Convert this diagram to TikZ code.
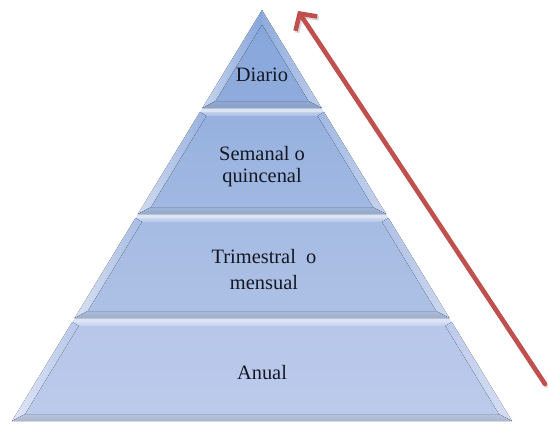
\documentclass[tikz,border=0pt]{standalone}
\usepackage{fontspec}
\setmainfont{Liberation Serif}
\usetikzlibrary{arrows.meta}
\definecolor{arrowred}{HTML}{C0504D}
\definecolor{inktext}{HTML}{141822}
\definecolor{gapblue}{HTML}{DCE5F5}
\tikzset{
  tiertext/.style={font=\fontsize{20.5}{22}\selectfont, text=inktext, align=center, inner sep=0pt},
  trend/.style={draw=arrowred, line width=4.6bp, line cap=round,
    -{Straight Barb[length=12bp, width=26bp, line width=4.6bp]}},
}
\begin{document}
\begin{tikzpicture}[x=1bp, y=-1bp]
\useasboundingbox (0,0) rectangle (548,423);
\fill[white] (0,0) rectangle (548,423);

% pale strips between the tiers
\foreach \ya/\yb in {107/113, 213/219, 317/323} {
  \fill[gapblue] (262-0.60827*\ya+6.08,\ya) -- (262+0.60827*\ya-6.08,\ya)
    -- (262+0.60827*\yb-6.08,\yb) -- (262-0.60827*\yb+6.08,\yb) -- cycle;
}

% four bevelled tiers: top y / bottom y / face top colour / face bottom colour
% half width of the pyramid at height y is 0.60827*(y-10)
\foreach \yt/\yb/\ca/\cb in {
    10/108/86A6DA/90ACDD,
    112/214/97B1DF/A0B8E2,
    218/318/A7BCE3/ADC0E5,
    322/421/B7C7EA/BCCAEB} {
  \pgfmathsetmacro\wt{0.60827*(\yt-10)}
  \pgfmathsetmacro\wb{0.60827*(\yb-10)}
  \pgfmathsetmacro\yti{max(\yt+4,24.8)}
  \pgfmathsetmacro\ybi{\yb-7}
  \pgfmathsetmacro\wti{max(0.60827*(\yti-10)-9,0)}
  \pgfmathsetmacro\wbi{0.60827*(\ybi-10)-9}
  \definecolor{facea}{HTML}{\ca}
  \definecolor{faceb}{HTML}{\cb}
  \coordinate (TL) at (262-\wt,\yt);
  \coordinate (TR) at (262+\wt,\yt);
  \coordinate (BR) at (262+\wb,\yb);
  \coordinate (BL) at (262-\wb,\yb);
  \coordinate (iTL) at (262-\wti,\yti);
  \coordinate (iTR) at (262+\wti,\yti);
  \coordinate (iBR) at (262+\wbi,\ybi);
  \coordinate (iBL) at (262-\wbi,\ybi);
  % bevel faces
  \fill[top color=facea!60!white, bottom color=facea!85!white]
    (TL) -- (TR) -- (iTR) -- (iTL) -- cycle;
  \fill[left color=facea!45!white, right color=facea]
    (TL) -- (iTL) -- (iBL) -- (BL) -- cycle;
  \fill[left color=faceb, right color=faceb!60!white]
    (TR) -- (BR) -- (iBR) -- (iTR) -- cycle;
  \fill[top color=faceb!92!gray, bottom color=faceb!72!gray]
    (BL) -- (iBL) -- (iBR) -- (BR) -- cycle;
  % main face
  \fill[top color=facea, bottom color=faceb]
    (iTL) -- (iTR) -- (iBR) -- (iBL) -- cycle;
}

% tier labels
\node[tiertext] (diario) at (262,75) {Diario};
\node[tiertext] (semanal) at (262,167) {Semanal o\\quincenal};
\node[tiertext] (trimestral) at (264,269.5) {Trimestral\ \ o\\[5bp]mensual};
\node[tiertext] (anual) at (262,373) {Anual};

% trend arrow along the right flank, with a soft shadow
\coordinate (arrowfoot) at (545,384);
\coordinate (arrowtip) at (298,11);
\draw[trend, draw=black!15, line width=4bp, transform canvas={xshift=1.5bp, yshift=-2bp}] (arrowfoot) -- (arrowtip);
\draw[trend] (arrowfoot) -- (arrowtip);
\end{tikzpicture}
\end{document}
